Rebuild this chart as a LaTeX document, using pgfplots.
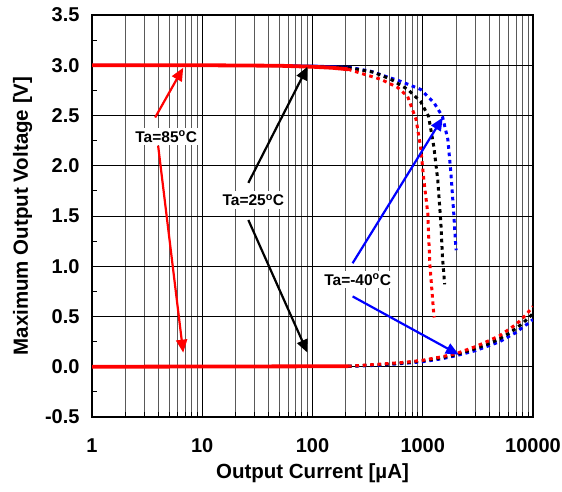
\documentclass[border=0pt]{standalone}
\usepackage{fontspec}
\setmainfont{Liberation Sans}
\usepackage{pgfplots}
\pgfplotsset{compat=1.18}
\usetikzlibrary{arrows.meta}

\definecolor{cRed}{RGB}{255,0,0}
\definecolor{cBlue}{RGB}{0,0,255}

\tikzset{
  solidcurve/.style={line width=3.8pt},
  dotcurve/.style={line width=3pt, dash pattern=on 3.6pt off 3.8pt},
  callout/.style={fill=white, inner sep=3pt, font=\bfseries\fontsize{15.5}{18}\selectfont},
  pointer/.style={line width=2.2pt, -{Triangle[length=13pt,width=11pt]}},
}

\begin{document}
\begin{tikzpicture}
\begin{axis}[
  name=ax,
  xmode=log,
  scale only axis,
  width=441pt, height=402pt,
  xmin=1, xmax=10000, ymin=-0.5, ymax=3.5,
  xtick={1,10,100,1000,10000},
  xticklabels={1,10,100,1000,10000},
  ytick={-0.5,0,...,3.5},
  minor y tick num=1,
  xtick pos=bottom, ytick pos=left,
  major tick length=0pt, minor tick length=5pt,
  tick style={black, line width=0.8pt},
  xmajorgrids, xminorgrids, ymajorgrids,
  major grid style={black, line width=0.8pt},
  minor grid style={black!65, line width=0.8pt},
  axis line style={line width=1.6pt},
  /pgf/number format/assume math mode=true,
  ticklabel style={font=\bfseries\fontsize{20}{24}\selectfont},
  yticklabel style={/pgf/number format/fixed, /pgf/number format/fixed zerofill,
    /pgf/number format/precision=1, xshift=-9pt},
  xticklabel style={yshift=-18pt},
  label style={font=\bfseries\fontsize{20.5}{24}\selectfont},
  xlabel={Output Current [µA]},
  ylabel={Maximum Output Voltage [V]},
  xlabel shift=4pt,
  ylabel shift=6pt,
]

% high-side output, low load region (solid)
\addplot[cBlue, line width=2.2pt] coordinates {(1,3.003) (100,2.996) (210,2.982)};
\addplot[black, line width=2.2pt] coordinates {(1,3.0) (100,2.992) (210,2.976)};
\addplot[cBlue, line width=2.2pt] coordinates {(1,0.0) (210,0.004)};
\addplot[black, line width=2.2pt] coordinates {(1,0.0) (210,0.005)};

% high-side output, heavy load (dotted)
\addplot[cBlue, dotcurve] coordinates {
  (210,2.982) (337,2.94) (630,2.84) (955,2.76) (1260,2.63) (1510,2.49)
  (1690,2.26) (1800,1.93) (1910,1.53) (1995,1.19) (2010,1.16)};
\addplot[black, dotcurve] coordinates {
  (210,2.976) (360,2.93) (513,2.86) (730,2.76) (955,2.64) (1130,2.49)
  (1260,2.19) (1368,1.86) (1460,1.43) (1510,1.09) (1580,0.82)};
\addplot[cRed, dotcurve] coordinates {
  (210,2.96) (257,2.93) (417,2.86) (590,2.78) (729,2.69) (870,2.46)
  (955,2.19) (1023,1.86) (1110,1.53) (1158,1.03) (1260,0.52) (1270,0.49)};

% low-side output, heavy load (dotted)
\addplot[cBlue, dotcurve] coordinates {
  (210,0.004) (400,0.015) (700,0.035) (1000,0.05) (1500,0.08) (2000,0.11)
  (3000,0.16) (4000,0.21) (5000,0.25) (6000,0.30) (7000,0.34) (8000,0.39)
  (9000,0.43) (10000,0.47)};
\addplot[black, dotcurve] coordinates {
  (210,0.005) (400,0.02) (700,0.04) (1000,0.06) (1500,0.09) (2000,0.12)
  (3000,0.18) (4000,0.23) (5000,0.28) (6000,0.33) (7000,0.38) (8000,0.43)
  (9000,0.48) (10000,0.53)};
\addplot[cRed, dotcurve] coordinates {
  (210,0.005) (400,0.025) (700,0.045) (1000,0.065) (1500,0.10) (2000,0.13)
  (3000,0.20) (4000,0.26) (5000,0.31) (6000,0.37) (7000,0.42) (8000,0.48)
  (9000,0.54) (10000,0.60)};

% 85 degC, low load region (solid, on top)
\addplot[cRed, solidcurve] coordinates {(1,3.0) (10,3.0) (50,2.995) (100,2.985) (150,2.975) (210,2.96)};
\addplot[cRed, solidcurve] coordinates {(1,0.0) (210,0.005)};

% temperature callouts
\node[callout] at (axis cs:4.71,2.29) {Ta=85\textsuperscript{o}C};
\draw[pointer, cRed] (axis cs:3.74,2.48) -- (axis cs:6.72,2.975);
\draw[pointer, cRed] (axis cs:3.98,2.20) -- (axis cs:6.72,0.14);

\node[callout] at (axis cs:29.1,1.66) {Ta=25\textsuperscript{o}C};
\draw[pointer, black] (axis cs:26.2,1.83) -- (axis cs:90.1,2.985);
\draw[pointer, black] (axis cs:26.2,1.46) -- (axis cs:90.1,0.14);

\node[callout] at (axis cs:257,0.866) {Ta=-40\textsuperscript{o}C};
\draw[pointer, cBlue] (axis cs:231,1.03) -- (axis cs:1520,2.48);
\draw[pointer, cBlue] (axis cs:231,0.70) -- (axis cs:2125,0.12);
\end{axis}
\pgfresetboundingbox
\useasboundingbox ([shift={(-92pt,-74pt)}]ax.south west) rectangle ([shift={(29pt,15pt)}]ax.north east);
\end{tikzpicture}
\end{document}
